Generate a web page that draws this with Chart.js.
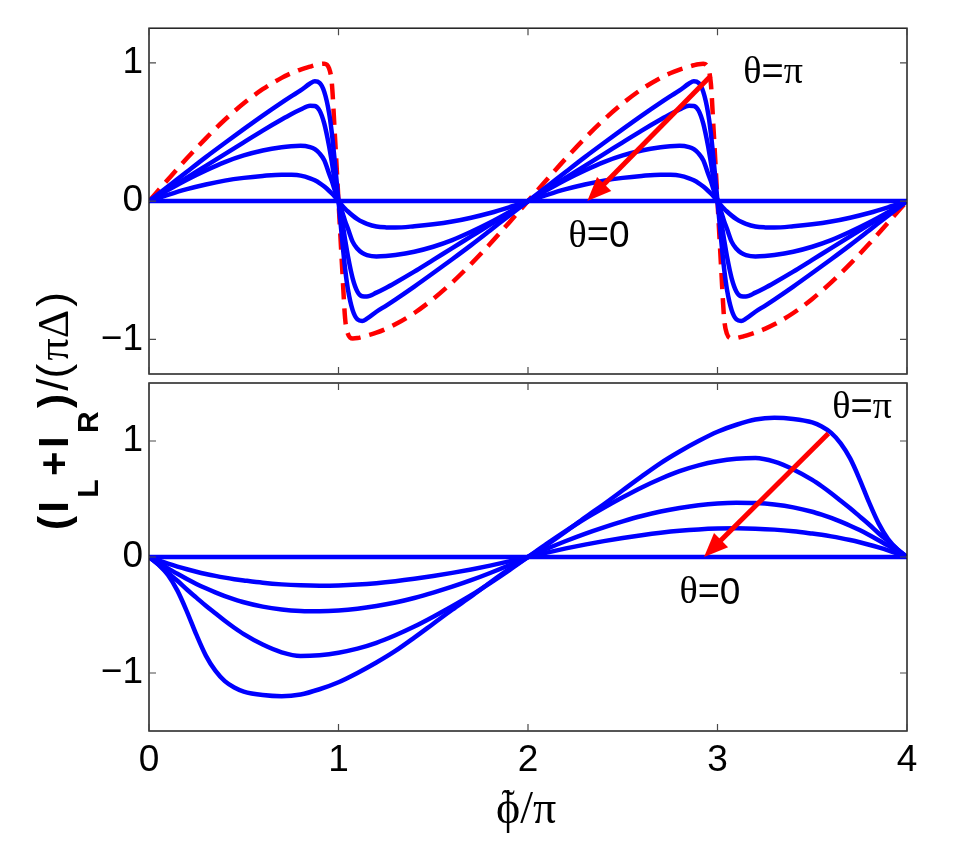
<!DOCTYPE html>
<html>
<head>
<meta charset="utf-8">
<script src="https://cdn.jsdelivr.net/npm/chart.js@4.4.1/dist/chart.umd.min.js"></script>
<style>
  html, body { margin: 0; padding: 0; background: #ffffff; }
  #wrap { position: relative; width: 978px; height: 848px; }
  #wrap canvas { position: absolute; left: 0; top: 0; }
</style>
</head>
<body>
<div id="wrap">
  <canvas id="cTop" width="978" height="848"></canvas>
  <canvas id="cBot" width="978" height="848"></canvas>
</div>
<script>
// ---------------- DATA ----------------
const xTickValues = [0, 1, 2, 3, 4];
const xTickLabels = ['0', '1', '2', '3', '4'];
const yTickValues = [-1, 0, 1];
const yTickLabels = ['\u22121', '0', '1'];

// Upper panel sample positions (phi~/pi)
const xTop = [
  0, 0.1, 0.2, 0.3, 0.4, 0.5, 0.6, 0.7, 0.75, 0.8, 0.85, 0.875, 0.9, 0.925, 0.95, 0.965, 0.98, 1.0,
  1.02, 1.035, 1.05, 1.075, 1.1, 1.125, 1.15, 1.2, 1.25, 1.3, 1.4, 1.5, 1.6, 1.7, 1.8, 1.9, 2.0,
  2.1, 2.2, 2.3, 2.4, 2.5, 2.6, 2.7, 2.75, 2.8, 2.85, 2.875, 2.9, 2.925, 2.95, 2.965, 2.98, 3.0,
  3.02, 3.035, 3.05, 3.075, 3.1, 3.125, 3.15, 3.2, 3.25, 3.3, 3.4, 3.5, 3.6, 3.7, 3.8, 3.9, 4.0
];
// red dashed limiting curve (upper panel)
const topDashed = [
  0, .156, .309, .454, .588, .707, .809, .891, .924, .951, .972, .982, .99, .993, .96, .85, .50, 0,
  -.50, -.85, -.96, -.993, -.99, -.982, -.972, -.951, -.924, -.891, -.809, -.707, -.588, -.454, -.309, -.156, 0,
  .156, .309, .454, .588, .707, .809, .891, .924, .951, .972, .982, .99, .993, .96, .85, .50, 0,
  -.50, -.85, -.96, -.993, -.99, -.982, -.972, -.951, -.924, -.891, -.809, -.707, -.588, -.454, -.309, -.156, 0
];
// blue curves, upper panel (largest theta to smallest)
const topCurve1 = [
  0, .105, .212, .318, .42, .52, .618, .712, .757, .80, .85, .866, .855, .79, .64, .49, .29, 0,
  -.29, -.49, -.64, -.79, -.855, -.866, -.85, -.80, -.757, -.712, -.618, -.52, -.42, -.318, -.212, -.105, 0,
  .105, .212, .318, .42, .52, .618, .712, .757, .80, .85, .866, .855, .79, .64, .49, .29, 0,
  -.29, -.49, -.64, -.79, -.855, -.866, -.85, -.80, -.757, -.712, -.618, -.52, -.42, -.318, -.212, -.105, 0
];
const topCurve2 = [
  0, .085, .17, .255, .34, .425, .51, .59, .628, .662, .69, .688, .655, .56, .40, .28, .15, 0,
  -.15, -.28, -.40, -.56, -.655, -.688, -.69, -.662, -.628, -.59, -.51, -.425, -.34, -.255, -.17, -.085, 0,
  .085, .17, .255, .34, .425, .51, .59, .628, .662, .69, .688, .655, .56, .40, .28, .15, 0,
  -.15, -.28, -.40, -.56, -.655, -.688, -.69, -.662, -.628, -.59, -.51, -.425, -.34, -.255, -.17, -.085, 0
];
const topCurve3 = [
  0, .08, .155, .222, .282, .33, .366, .39, .397, .40, .39, .375, .345, .295, .20, .145, .08, 0,
  -.08, -.145, -.20, -.295, -.345, -.375, -.39, -.40, -.397, -.39, -.366, -.33, -.282, -.222, -.155, -.08, 0,
  .08, .155, .222, .282, .33, .366, .39, .397, .40, .39, .375, .345, .295, .20, .145, .08, 0,
  -.08, -.145, -.20, -.295, -.345, -.375, -.39, -.40, -.397, -.39, -.366, -.33, -.282, -.222, -.155, -.08, 0
];
const topCurve4 = [
  0, .045, .086, .12, .148, .168, .182, .191, .19, .184, .165, .15, .13, .105, .075, .055, .033, 0,
  -.033, -.055, -.075, -.105, -.13, -.15, -.165, -.184, -.19, -.191, -.182, -.168, -.148, -.12, -.086, -.045, 0,
  .045, .086, .12, .148, .168, .182, .191, .19, .184, .165, .15, .13, .105, .075, .055, .033, 0,
  -.033, -.055, -.075, -.105, -.13, -.15, -.165, -.184, -.19, -.191, -.182, -.168, -.148, -.12, -.086, -.045, 0
];
const topZero = [
  0, 0, 0, 0, 0, 0, 0, 0, 0, 0, 0, 0, 0, 0, 0, 0, 0, 0,
  0, 0, 0, 0, 0, 0, 0, 0, 0, 0, 0, 0, 0, 0, 0, 0, 0,
  0, 0, 0, 0, 0, 0, 0, 0, 0, 0, 0, 0, 0, 0, 0, 0, 0,
  0, 0, 0, 0, 0, 0, 0, 0, 0, 0, 0, 0, 0, 0, 0, 0, 0
];

// Lower panel sample positions
const xBot = [
  0, 0.05, 0.1, 0.15, 0.2, 0.25, 0.3, 0.35, 0.4, 0.45, 0.5, 0.6, 0.7, 0.8, 0.9, 1.0,
  1.1, 1.2, 1.3, 1.4, 1.5, 1.6, 1.7, 1.8, 1.9, 2.0,
  2.1, 2.2, 2.3, 2.4, 2.5, 2.6, 2.7, 2.8, 2.9, 3.0,
  3.1, 3.2, 3.3, 3.4, 3.5, 3.55, 3.6, 3.65, 3.7, 3.75, 3.8, 3.85, 3.9, 3.95, 4.0
];
const botCurve1 = [
  0, -.065, -.155, -.29, -.47, -.67, -.85, -.98, -1.07, -1.125, -1.16, -1.19, -1.2, -1.185, -1.14, -1.08,
  -1.0, -.91, -.81, -.695, -.575, -.455, -.34, -.22, -.105, 0,
  .105, .22, .34, .455, .575, .695, .81, .91, 1.0, 1.08,
  1.14, 1.185, 1.2, 1.19, 1.16, 1.125, 1.07, .98, .85, .67, .47, .29, .155, .065, 0
];
const botCurve2 = [
  0, -.065, -.135, -.205, -.28, -.35, -.42, -.485, -.55, -.61, -.665, -.755, -.822, -.853, -.846, -.825,
  -.79, -.74, -.675, -.60, -.515, -.425, -.33, -.225, -.115, 0,
  .115, .225, .33, .425, .515, .60, .675, .74, .79, .825,
  .846, .853, .822, .755, .665, .61, .55, .485, .42, .35, .28, .205, .135, .065, 0
];
const botCurve3 = [
  0, -.05, -.098, -.145, -.19, -.232, -.27, -.305, -.337, -.365, -.39, -.428, -.452, -.465, -.468, -.462,
  -.447, -.423, -.392, -.353, -.307, -.256, -.20, -.138, -.071, 0,
  .071, .138, .20, .256, .307, .353, .392, .423, .447, .462,
  .468, .465, .452, .428, .39, .365, .337, .305, .27, .232, .19, .145, .098, .05, 0
];
const botCurve4 = [
  0, -.03, -.058, -.083, -.106, -.127, -.146, -.163, -.178, -.191, -.202, -.222, -.236, -.244, -.247, -.245,
  -.238, -.226, -.209, -.188, -.164, -.137, -.107, -.074, -.038, 0,
  .038, .074, .107, .137, .164, .188, .209, .226, .238, .245,
  .247, .244, .236, .222, .202, .191, .178, .163, .146, .127, .106, .083, .058, .03, 0
];
const botZero = [
  0, 0, 0, 0, 0, 0, 0, 0, 0, 0, 0, 0, 0, 0, 0, 0,
  0, 0, 0, 0, 0, 0, 0, 0, 0, 0,
  0, 0, 0, 0, 0, 0, 0, 0, 0, 0,
  0, 0, 0, 0, 0, 0, 0, 0, 0, 0, 0, 0, 0, 0, 0
];

// ---------------- STYLE / LAYOUT ----------------
const SANS = '"Liberation Sans", Arial, Helvetica, sans-serif';
const SERIF = '"Liberation Serif", "Times New Roman", "DejaVu Serif", serif';
const BLUE = '#0000ff';
const RED = '#ff0000';
const LINE_W = 4.5;

function pts(xs, ys) { return xs.map((x, i) => ({ x: x, y: ys[i] })); }

function blueSet(xs, ys) {
  return { data: pts(xs, ys), borderColor: BLUE, borderWidth: LINE_W, pointRadius: 0,
           cubicInterpolationMode: 'monotone', fill: false };
}

function tickLabel(v) {
  const i = yTickValues.indexOf(v);
  return i >= 0 ? yTickLabels[i] : '';
}

function drawParts(ctx, parts, cx, cy) {
  let w = 0;
  parts.forEach(p => { ctx.font = p.f; p.w = ctx.measureText(p.t).width; w += p.w; });
  let x = cx - w / 2;
  ctx.textBaseline = 'middle';
  ctx.textAlign = 'left';
  parts.forEach(p => { ctx.font = p.f; ctx.fillText(p.t, x, cy + (p.dy || 0)); x += p.w; });
}

function drawArrow(ctx, x0, y0, x1, y1, headLen, headHalf, width, color) {
  const ang = Math.atan2(y1 - y0, x1 - x0);
  const bx = x1 - headLen * Math.cos(ang), by = y1 - headLen * Math.sin(ang);
  ctx.save();
  ctx.strokeStyle = color; ctx.fillStyle = color; ctx.lineWidth = width; ctx.lineCap = 'butt';
  ctx.beginPath(); ctx.moveTo(x0, y0); ctx.lineTo(bx + 2 * Math.cos(ang), by + 2 * Math.sin(ang)); ctx.stroke();
  ctx.beginPath();
  ctx.moveTo(x1, y1);
  ctx.lineTo(bx + headHalf * Math.sin(ang), by - headHalf * Math.cos(ang));
  ctx.lineTo(bx - headHalf * Math.sin(ang), by + headHalf * Math.cos(ang));
  ctx.closePath(); ctx.fill();
  ctx.restore();
}

const panelDecor = {
  id: 'panelDecor',
  afterDatasetsDraw(chart, args, opts) {
    const { ctx, chartArea: a, scales: { x, y } } = chart;
    ctx.save();
    ctx.strokeStyle = '#1e1e1e';
    ctx.lineWidth = 1.5;
    ctx.strokeRect(a.left, a.top, a.right - a.left, a.bottom - a.top);
    ctx.strokeStyle = '#4a4a4a';
    ctx.lineWidth = 1.2;
    const L = 7;
    ctx.beginPath();
    xTickValues.forEach(v => {
      const px = x.getPixelForValue(v);
      ctx.moveTo(px, a.bottom); ctx.lineTo(px, a.bottom - L);
      ctx.moveTo(px, a.top); ctx.lineTo(px, a.top + L);
    });
    yTickValues.forEach(v => {
      const py = y.getPixelForValue(v);
      ctx.moveTo(a.left, py); ctx.lineTo(a.left + L, py);
      ctx.moveTo(a.right, py); ctx.lineTo(a.right - L, py);
    });
    ctx.stroke();
    const ar = opts.arrow;
    drawArrow(ctx,
      x.getPixelForValue(ar.from[0]), y.getPixelForValue(ar.from[1]),
      x.getPixelForValue(ar.to[0]), y.getPixelForValue(ar.to[1]),
      24, 10, 5, RED);
    ctx.fillStyle = '#000';
    opts.labels.forEach(lb => {
      drawParts(ctx, lb.parts, x.getPixelForValue(lb.at[0]), y.getPixelForValue(lb.at[1]));
    });
    ctx.restore();
  }
};

// y-axis title (spans both panels) and x-axis title (phi with tilde over pi)
const axisTitles = {
  id: 'axisTitles',
  afterDraw(chart, args, opts) {
    const ctx = chart.ctx;
    const parts = [
      { t: '(', f: 'bold 42px ' + SANS, dy: 0 },
      { t: 'I', f: 'bold 42px ' + SANS, dy: 0 },
      { t: 'L', f: 'bold 30px ' + SANS, dy: 30 },
      { t: '+', f: 'bold 42px ' + SANS, dy: 0 },
      { t: 'I', f: 'bold 42px ' + SANS, dy: 0 },
      { t: 'R', f: 'bold 30px ' + SANS, dy: 30 },
      { t: ')', f: 'bold 42px ' + SANS, dy: 0 },
      { t: '/(', f: '44px ' + SANS, dy: 0 },
      { t: '\u03C0\u0394', f: '44px ' + SERIF, dy: 0 },
      { t: ')', f: '44px ' + SANS, dy: 0 }
    ];
    let w = 0;
    parts.forEach(p => { ctx.font = p.f; p.w = ctx.measureText(p.t).width; w += p.w; });
    const yt = opts.y;
    const gap = Math.max(0, (yt.length - w) / (parts.length - 1));
    const total = w + gap * (parts.length - 1);
    ctx.save();
    ctx.translate(yt.baselineX, yt.centerY);
    ctx.rotate(-Math.PI / 2);
    ctx.fillStyle = '#000';
    ctx.textBaseline = 'alphabetic';
    ctx.textAlign = 'left';
    let xx = -total / 2;
    parts.forEach(p => { ctx.font = p.f; ctx.fillText(p.t, xx, p.dy); xx += p.w + gap; });
    ctx.restore();

    const xt = opts.x;
    const xScale = chart.scales.x;
    const cx = xScale.getPixelForValue(xt.centerValue);
    ctx.save();
    ctx.fillStyle = '#000';
    ctx.textBaseline = 'alphabetic';
    ctx.textAlign = 'left';
    ctx.font = '46px ' + SERIF;
    const wPhi = ctx.measureText('\u03D5').width;
    const wRest = ctx.measureText('/\u03C0').width;
    const x0 = cx - (wPhi + wRest) / 2;
    ctx.fillText('\u03D5', x0, xt.baselineY);
    ctx.fillText('/\u03C0', x0 + wPhi, xt.baselineY);
    ctx.font = '40px ' + SERIF;
    const wT = ctx.measureText('\u02DC').width;
    ctx.fillText('\u02DC', x0 + wPhi / 2 - wT / 2, xt.baselineY - 6);
    ctx.restore();
  }
};

function yScale(min, max) {
  return {
    type: 'linear', position: 'left', min: min, max: max,
    afterBuildTicks: s => { s.ticks = yTickValues.map(v => ({ value: v })); },
    afterFit: s => { s.width = 149; },
    grid: { display: false, drawTicks: false },
    border: { display: false },
    ticks: { color: '#000', font: { family: SANS, size: 37 }, padding: 6, callback: v => tickLabel(v) }
  };
}

const thetaPi = [
  { t: '\u03B8', f: '38px ' + SERIF }, { t: '=', f: '38px ' + SANS }, { t: '\u03C0', f: '38px ' + SERIF }
];
const thetaZero = [
  { t: '\u03B8', f: '38px ' + SERIF }, { t: '=', f: '38px ' + SANS }, { t: '0', f: '37px ' + SANS }
];

// ---------------- UPPER PANEL ----------------
new Chart(document.getElementById('cTop'), {
  type: 'line',
  data: {
    datasets: [
      blueSet(xTop, topZero),
      blueSet(xTop, topCurve4),
      blueSet(xTop, topCurve3),
      blueSet(xTop, topCurve2),
      blueSet(xTop, topCurve1),
      { data: pts(xTop, topDashed), borderColor: RED, borderWidth: LINE_W, borderDash: [16, 9],
        pointRadius: 0, cubicInterpolationMode: 'monotone', fill: false }
    ]
  },
  options: {
    responsive: false, animation: false,
    layout: { padding: { left: 0, top: 27, right: 71, bottom: 474 } },
    scales: {
      x: { type: 'linear', min: 0, max: 4, display: false },
      y: yScale(-1.25, 1.25)
    },
    plugins: {
      legend: { display: false }, tooltip: { enabled: false },
      panelDecor: {
        arrow: { from: [2.964, 0.905], to: [2.313, 0.0] },
        labels: [ { at: [3.293, 0.926], parts: thetaPi }, { at: [2.375, -0.258], parts: thetaZero } ]
      }
    }
  },
  plugins: [panelDecor]
});

// ---------------- LOWER PANEL ----------------
new Chart(document.getElementById('cBot'), {
  type: 'line',
  data: {
    datasets: [
      blueSet(xBot, botZero),
      blueSet(xBot, botCurve4),
      blueSet(xBot, botCurve3),
      blueSet(xBot, botCurve2),
      blueSet(xBot, botCurve1)
    ]
  },
  options: {
    responsive: false, animation: false,
    layout: { padding: { left: 0, top: 383, right: 71, bottom: 0 } },
    scales: {
      x: {
        type: 'linear', position: 'bottom', min: 0, max: 4,
        afterBuildTicks: s => { s.ticks = xTickValues.map(v => ({ value: v })); },
        afterFit: s => { s.height = 117; },
        grid: { display: false, drawTicks: false },
        border: { display: false },
        ticks: { color: '#000', font: { family: SANS, size: 37 }, padding: 8, maxRotation: 0, autoSkip: false,
                 callback: v => xTickLabels[xTickValues.indexOf(v)] }
      },
      y: yScale(-1.5, 1.5)
    },
    plugins: {
      legend: { display: false }, tooltip: { enabled: false },
      panelDecor: {
        arrow: { from: [3.585, 1.064], to: [2.929, 0.0] },
        labels: [ { at: [3.763, 1.282], parts: thetaPi }, { at: [2.96, -0.313], parts: thetaZero } ]
      },
      axisTitles: {
        y: { baselineX: 68, centerY: 411, length: 238 },
        x: { centerValue: 1.99, baselineY: 823 }
      }
    }
  },
  plugins: [panelDecor, axisTitles]
});
</script>
</body>
</html>
